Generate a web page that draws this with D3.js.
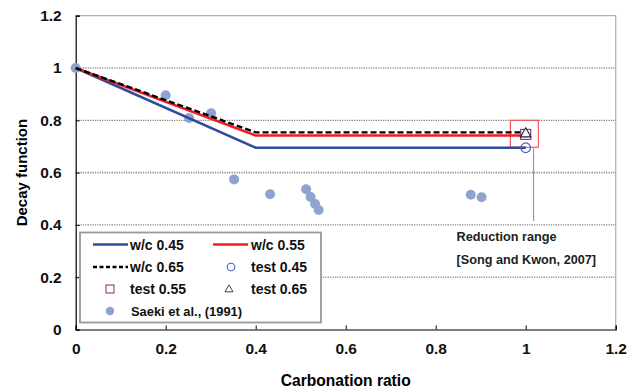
<!DOCTYPE html>
<html>
<head>
<meta charset="utf-8">
<script src="https://cdn.jsdelivr.net/npm/d3@7"></script>
<style>
  body { margin: 0; background: #fff; }
  svg { display: block; font-family: Arial, "Liberation Sans", sans-serif; }
</style>
</head>
<body>
<svg id="chart" width="640" height="389"></svg>
<script>
// Decay function vs carbonation ratio
const xTicks = [0, 0.2, 0.4, 0.6, 0.8, 1, 1.2];
const yTicks = [0, 0.2, 0.4, 0.6, 0.8, 1, 1.2];

// Model curves: linear decay up to ratio 0.4, then constant
const wc045 = [[0, 1.0], [0.4, 0.695], [1.0, 0.695]];
const wc055 = [[0, 1.0], [0.4, 0.742], [1.0, 0.742]];
const wc065 = [[0, 1.0], [0.4, 0.754], [1.0, 0.754]];

// Test results
const test045 = [[1.0, 0.695]];
const test055 = [[1.0, 0.746]];
const test065 = [[1.0, 0.750]];

// Saeki et al. (1991)
const saekiX = [0, 0.20, 0.252, 0.301, 0.352, 0.432, 0.512, 0.522, 0.532, 0.540, 0.878, 0.902];
const saekiY = [1.0, 0.896, 0.809, 0.827, 0.574, 0.517, 0.536, 0.507, 0.480, 0.457, 0.515, 0.506];

// Reduction range box
const rangeX = [0.966, 1.028];
const rangeY = [0.697, 0.80];

const svg = d3.select("#chart");
const m = { left: 75.7, right: 615.7, top: 15.7, bottom: 329.5 };
const x = d3.scaleLinear().domain([0, 1.2]).range([m.left, m.right]);
const y = d3.scaleLinear().domain([0, 1.2]).range([m.bottom, m.top]);

// Gridlines
svg.append("g").selectAll("line")
  .data(yTicks.filter(d => d > 0 && d < 1.2))
  .join("line")
  .attr("x1", m.left).attr("x2", m.right)
  .attr("y1", d => y(d)).attr("y2", d => y(d))
  .attr("stroke", d => d === 0.6 ? "#8a8a8a" : "#333")
  .attr("stroke-width", d => d === 0.6 ? 1.6 : 0.8)
  .attr("stroke-dasharray", "1.2,1.2");

// Top and right frame
svg.append("path")
  .attr("d", `M${m.left},${y(1.2)}H${m.right}V${m.bottom}`)
  .attr("fill", "none").attr("stroke", "#b0b0b0").attr("stroke-width", 1.2);

// Axes
const xAxis = d3.axisBottom(x).tickValues(xTicks).tickSize(-4).tickPadding(11)
  .tickFormat(d => d3.format("~g")(d));
const gx = svg.append("g").attr("transform", `translate(0,${m.bottom})`).call(xAxis);
gx.select(".domain").attr("stroke", "#000").attr("stroke-width", 1.2);
gx.selectAll(".tick line").attr("stroke", "#000");
gx.selectAll("text").attr("font-size", 15.5).attr("font-weight", "bold").attr("fill", "#111").attr("dy", "0.85em");

const yAxis = d3.axisLeft(y).tickValues(yTicks).tickSize(-4).tickPadding(14)
  .tickFormat(d => d3.format("~g")(d));
const gy = svg.append("g").attr("transform", `translate(${m.left},0)`).call(yAxis);
gy.select(".domain").attr("stroke", "#000").attr("stroke-width", 1.2);
gy.selectAll(".tick line").attr("stroke", "#000");
gy.selectAll("text").attr("font-size", 15.5).attr("font-weight", "bold").attr("fill", "#111");

// Axis titles
svg.append("text")
  .attr("x", (m.left + m.right) / 2).attr("y", 386)
  .attr("text-anchor", "middle").attr("font-size", 15.6).attr("font-weight", "bold")
  .text("Carbonation ratio");
svg.append("text")
  .attr("transform", `translate(27,${(m.top + m.bottom) / 2}) rotate(-90)`)
  .attr("text-anchor", "middle").attr("font-size", 15).attr("font-weight", "bold")
  .text("Decay function");

// Reduction range marker
svg.append("rect")
  .attr("x", x(rangeX[0])).attr("y", y(rangeY[1]))
  .attr("width", x(rangeX[1]) - x(rangeX[0])).attr("height", y(rangeY[0]) - y(rangeY[1]))
  .attr("fill", "none").attr("stroke", "#f04b55").attr("stroke-width", 1.1);
svg.append("line")
  .attr("x1", x(1.0175)).attr("x2", x(1.0175))
  .attr("y1", y(rangeY[0])).attr("y2", y(0.415))
  .attr("stroke", "#f06a72").attr("stroke-width", 1.1);
svg.append("text").attr("x", 456.5).attr("y", 241)
  .attr("font-size", 12.7).attr("font-weight", "bold").attr("fill", "#222")
  .text("Reduction range");
svg.append("text").attr("x", 456.5).attr("y", 263.5)
  .attr("font-size", 12.7).attr("font-weight", "bold").attr("fill", "#222")
  .text("[Song and Kwon, 2007]");

// Saeki data points
const saeki = saekiX.map((d, i) => [d, saekiY[i]]);
svg.append("g").selectAll("circle").data(saeki).join("circle")
  .attr("cx", d => x(d[0])).attr("cy", d => y(d[1])).attr("r", 5)
  .attr("fill", "#8ea4cf");

// Model lines
const line = d3.line().x(d => x(d[0])).y(d => y(d[1]));
svg.append("path").datum(wc045).attr("d", line)
  .attr("fill", "none").attr("stroke", "#2f4b9d").attr("stroke-width", 2.6);
svg.append("path").datum(wc055).attr("d", line)
  .attr("fill", "none").attr("stroke", "#f01c24").attr("stroke-width", 2.6);
svg.append("path").datum(wc065).attr("d", line)
  .attr("fill", "none").attr("stroke", "#000").attr("stroke-width", 2.4)
  .attr("stroke-dasharray", "6,3");

// Test markers
svg.append("g").selectAll("circle").data(test045).join("circle")
  .attr("cx", d => x(d[0])).attr("cy", d => y(d[1])).attr("r", 4.8)
  .attr("fill", "none").attr("stroke", "#4a5cc0").attr("stroke-width", 1.2);
svg.append("g").selectAll("rect").data(test055).join("rect")
  .attr("x", d => x(d[0]) - 5).attr("y", d => y(d[1]) - 5)
  .attr("width", 10).attr("height", 10)
  .attr("fill", "none").attr("stroke", "#8b3a8b").attr("stroke-width", 1.2);
const tri = d3.symbol().type(d3.symbolTriangle).size(48);
svg.append("g").selectAll("path").data(test065).join("path")
  .attr("transform", d => `translate(${x(d[0])},${y(d[1]) + 0.5})`)
  .attr("d", tri).attr("fill", "#fff").attr("stroke", "#222").attr("stroke-width", 1.1);

// Legend
const lg = svg.append("g");
lg.append("rect").attr("x", 80).attr("y", 232.5).attr("width", 241).attr("height", 90)
  .attr("fill", "#fff").attr("stroke", "#9a9a9a").attr("stroke-width", 1.8);

const col1 = 93, col2 = 213, txt1 = 130, txt2 = 251;
const rows = [244.5, 267, 289, 311];
function lineItem(x0, yy, color, dash) {
  lg.append("line").attr("x1", x0).attr("x2", x0 + 35).attr("y1", yy).attr("y2", yy)
    .attr("stroke", color).attr("stroke-width", 2.4).attr("stroke-dasharray", dash || null);
}
function label(x0, yy, t, size) {
  lg.append("text").attr("x", x0).attr("y", yy).attr("dy", "0.36em")
    .attr("font-size", size || 14).attr("font-weight", "bold").attr("fill", "#111").text(t);
}
lineItem(col1, rows[0], "#2f4b9d"); label(txt1, rows[0], "w/c 0.45");
lineItem(col2, rows[0], "#f01c24"); label(txt2, rows[0], "w/c 0.55");
lineItem(col1, rows[1], "#000", "4,2.5"); label(txt1, rows[1], "w/c 0.65");
lg.append("circle").attr("cx", 231).attr("cy", rows[1]).attr("r", 3.8)
  .attr("fill", "none").attr("stroke", "#4a5cc0").attr("stroke-width", 1.1);
label(txt2, rows[1], "test 0.45");
lg.append("rect").attr("x", 106).attr("y", rows[2] - 4).attr("width", 8).attr("height", 8)
  .attr("fill", "none").attr("stroke", "#8b3a8b").attr("stroke-width", 1.1);
label(txt1, rows[2], "test 0.55");
lg.append("path").attr("transform", `translate(229,${rows[2] + 0.5})`)
  .attr("d", d3.symbol().type(d3.symbolTriangle).size(28))
  .attr("fill", "none").attr("stroke", "#444").attr("stroke-width", 1);
label(txt2, rows[2], "test 0.65");
lg.append("circle").attr("cx", 110).attr("cy", rows[3]).attr("r", 4.2).attr("fill", "#8ea4cf");
label(txt1 + 1, rows[3], "Saeki et al., (1991)", 12.9);
</script>
</body>
</html>
